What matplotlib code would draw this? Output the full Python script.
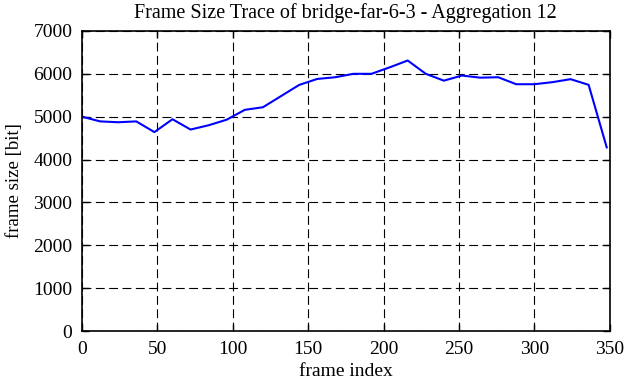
import matplotlib
matplotlib.use('Agg')
import matplotlib.pyplot as plt

# frame index (aggregation of 12 frames) and mean frame size in bit
frame_index = [0, 12, 24, 36, 48, 60, 72, 84, 96, 108, 120, 132, 144, 156, 168,
               180, 192, 204, 216, 228, 240, 252, 264, 276, 288, 300, 312, 324, 336, 348]
frame_size = [5000, 4890, 4870, 4890, 4640, 4940, 4700, 4800, 4930, 5160, 5220, 5480,
              5740, 5880, 5920, 6000, 6000, 6150, 6310, 6000, 5840, 5960, 5910, 5920,
              5757, 5757, 5805, 5875, 5743, 4284]

x_ticks = [0, 50, 100, 150, 200, 250, 300, 350]
y_ticks = [0, 1000, 2000, 3000, 4000, 5000, 6000, 7000]

plt.rcParams['font.family'] = ['Liberation Serif', 'DejaVu Serif']
plt.rcParams['font.size'] = 14

fig = plt.figure(figsize=(6.26, 3.82), dpi=100)
ax = fig.add_axes([0.131, 0.1335, 0.843, 0.7855])

ax.plot(frame_index, frame_size, color='#0000ff', linewidth=1.5)

ax.set_xlim(0, 350)
ax.set_ylim(0, 7000)
ax.set_xticks(x_ticks)
ax.set_yticks(y_ticks)
ax.grid(True, color='black', linestyle=(0, (8, 4)), linewidth=0.8)
ax.tick_params(direction='in', top=True, right=True, length=5, width=1,
               labelsize=14, pad=7)
for s in ax.spines.values():
    s.set_linewidth(1.2)

ax.set_xlabel('frame index', fontsize=14, labelpad=4)
ax.set_ylabel('frame size [bit]', fontsize=13.5, labelpad=7)
ax.set_title('Frame Size Trace of bridge-far-6-3 - Aggregation 12', fontsize=14.5, pad=9)

plt.savefig('out.png', dpi=100)
plt.close()
